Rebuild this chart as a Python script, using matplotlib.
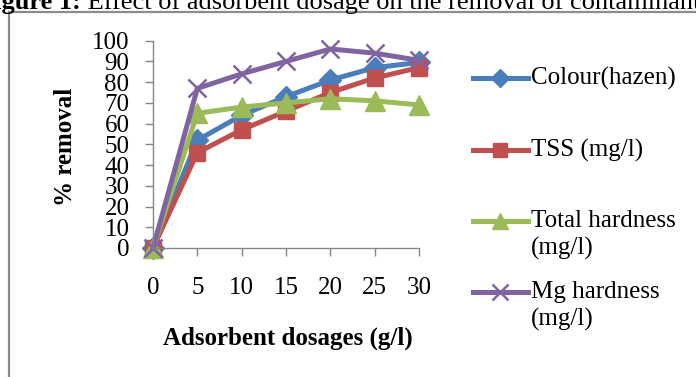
import matplotlib
matplotlib.use("Agg")
import matplotlib.pyplot as plt
from matplotlib.lines import Line2D
from matplotlib.patches import Rectangle

plt.rcParams['font.family'] = ['Liberation Serif', 'DejaVu Serif']

# data
dosages = [0, 5, 10, 15, 20, 25, 30]
colour = [0, 52, 64, 73, 81, 87, 89.5]
tss = [0, 46, 57, 66, 75, 82, 87]
total_hardness = [0, 65, 68, 70, 72, 71, 69]
mg_hardness = [0, 77, 84, 90, 96, 94, 90.5]
labels = ["Colour(hazen)", "TSS (mg/l)", "Total hardness\n(mg/l)", "Mg hardness\n(mg/l)"]
yticks = list(range(0, 101, 10))

W, H = 696, 377
fs = 18
grey = "#868686"

fig = plt.figure(figsize=(W / 100, H / 100), dpi=100)

# chart border (only left and top visible)
fig.patches.append(Rectangle((9 / W, -0.2), 2, 1 - 12 / H + 0.2, transform=fig.transFigure,
                             fill=False, edgecolor="#8c8c8c", lw=1.6))

ax = fig.add_axes([153 / W, 1 - 248 / H, (419 - 153) / W, (248 - 40.7) / H])

series = [colour, tss, total_hardness, mg_hardness]
colors = ["#4A7EBB", "#C0504D", "#9BBB59", "#8064A2"]
markers = ["D", "s", "^", "x"]
msizes = [11, 12, 14, 13]

for vals, c, m, ms in zip(series, colors, markers, msizes):
    ax.plot(dosages, vals, color=c, lw=3.6, marker=m, ms=ms, mew=1.8 if m == "x" else 1,
            mec=c, mfc=c, clip_on=False)

ax.set_xlim(0, 30)
ax.set_ylim(0, 100)
ax.set_xticks(dosages)
ax.set_yticks(yticks)
ax.tick_params(axis="x", length=6, width=1, color=grey, pad=15, labelsize=fs)
ax.tick_params(axis="y", length=6, width=1, color=grey, pad=11, labelsize=fs)
for s in ["top", "right"]:
    ax.spines[s].set_visible(False)
for s in ["left", "bottom"]:
    ax.spines[s].set_color(grey)
    ax.spines[s].set_linewidth(1)
ax.patch.set_visible(False)

fig.text(65 / W, 1 - 147 / H, "% removal", rotation=90, ha="center", va="center",
         fontsize=fs, fontweight="bold")
fig.text(288 / W, 1 - 338 / H, "Adsorbent dosages (g/l)", ha="center", va="center",
         fontsize=fs, fontweight="bold")

# legend drawn by hand
leg_y = [78, 150, 221, 292]
for lab, y, c, m, ms in zip(labels, leg_y, colors, markers, msizes):
    yf = 1 - y / H
    fig.add_artist(Line2D([473 / W, 528 / W], [yf, yf], transform=fig.transFigure,
                          color=c, lw=3.6))
    fig.add_artist(Line2D([500 / W], [yf], transform=fig.transFigure, color=c,
                          marker=m, ms=ms * 0.85, mew=1.8 if m == "x" else 1, mec=c, mfc=c))
    fig.text(531 / W, yf + 11 / H, lab, ha="left", va="top", fontsize=fs, linespacing=1.27)

# caption cut off at top of the picture
t1 = fig.text(-22 / W, 1 - 9 / H, "Figure 1:", fontsize=19, fontweight="bold", va="baseline")
fig.canvas.draw()
bb = t1.get_window_extent()
fig.text(bb.x1 / W, 1 - 9 / H, " Effect of adsorbent dosage on the removal of contaminants",
         fontsize=19, va="baseline")

fig.savefig("out.png", dpi=100)
